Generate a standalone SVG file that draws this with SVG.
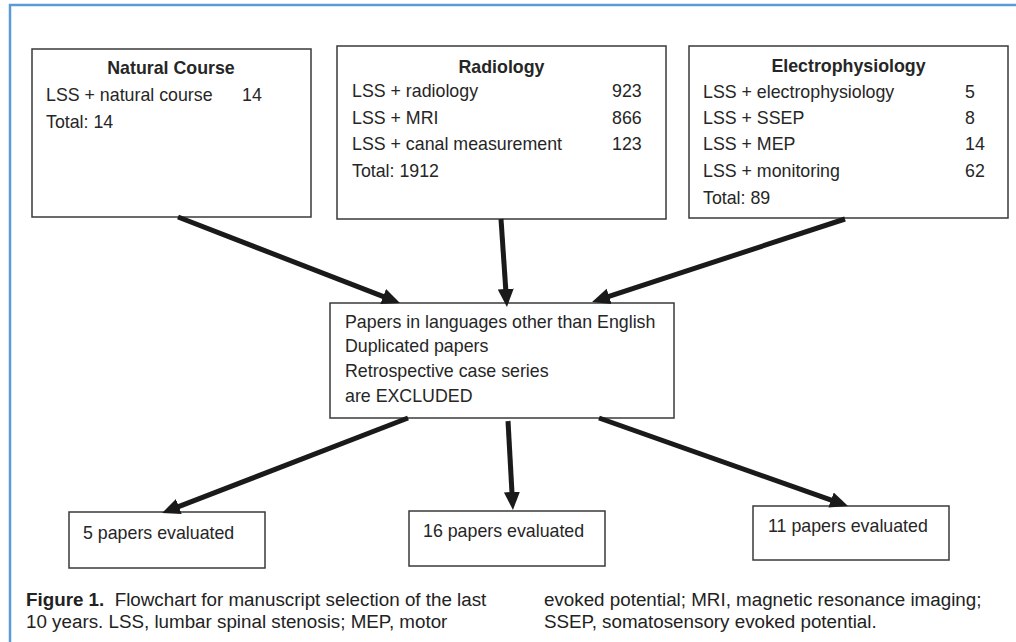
<svg xmlns="http://www.w3.org/2000/svg" width="1016" height="642" viewBox="0 0 1016 642">
<style>
.frame{stroke:#5b9bd5;stroke-width:2.5;fill:none}
.box{fill:#fff;stroke:#3a3a3a;stroke-width:1.5}
.t{font-family:"Liberation Sans",Arial,sans-serif;font-size:17.8px;fill:#262626}
.b{font-weight:bold}
.mid{text-anchor:middle}
.arrow{stroke:#1a1a1a;stroke-width:5;fill:none;marker-end:url(#ah)}
.cap{font-family:"Liberation Sans",Arial,sans-serif;font-size:18.8px;fill:#222}
</style>
<defs>
<marker id="ah" markerUnits="userSpaceOnUse" markerWidth="20" markerHeight="18" viewBox="0 -9 20 18" refX="1" refY="0" orient="auto">
<path d="M0,-8 L18,0 L0,8 z" fill="#1a1a1a"/>
</marker>
</defs>
<rect width="1016" height="642" fill="#fff"/>
<g id="frame">
<line class="frame" x1="9" y1="5" x2="1016" y2="5"/>
<line class="frame" x1="10" y1="4" x2="10" y2="642"/>
</g>
<g id="natural-course">
<rect class="box" x="32" y="49" width="279" height="168"/>
<text class="t b mid" x="171" y="74">Natural Course</text>
<text class="t" x="46" y="101">LSS + natural course</text>
<text class="t" x="242" y="101">14</text>
<text class="t" x="46" y="128">Total: 14</text>
</g>
<g id="radiology">
<rect class="box" x="337" y="46" width="329" height="173"/>
<text class="t b mid" x="501.5" y="73">Radiology</text>
<text class="t" x="352" y="97">LSS + radiology</text>
<text class="t" x="612" y="97">923</text>
<text class="t" x="352" y="124">LSS + MRI</text>
<text class="t" x="612" y="124">866</text>
<text class="t" x="352" y="150">LSS + canal measurement</text>
<text class="t" x="612" y="150">123</text>
<text class="t" x="352" y="177">Total: 1912</text>
</g>
<g id="electrophysiology">
<rect class="box" x="689" y="46" width="319" height="172"/>
<text class="t b mid" x="848.5" y="72">Electrophysiology</text>
<text class="t" x="703" y="98">LSS + electrophysiology</text>
<text class="t" x="965" y="98">5</text>
<text class="t" x="703" y="124">LSS + SSEP</text>
<text class="t" x="965" y="124">8</text>
<text class="t" x="703" y="150">LSS + MEP</text>
<text class="t" x="965" y="150">14</text>
<text class="t" x="703" y="177">LSS + monitoring</text>
<text class="t" x="965" y="177">62</text>
<text class="t" x="703" y="204">Total: 89</text>
</g>
<g id="exclusion">
<rect class="box" x="330" y="303" width="344" height="115"/>
<text class="t" x="345" y="328">Papers in languages other than English</text>
<text class="t" x="345" y="352">Duplicated papers</text>
<text class="t" x="345" y="377">Retrospective case series</text>
<text class="t" x="345" y="402">are EXCLUDED</text>
</g>
<g id="result-5">
<rect class="box" x="69" y="512" width="196" height="56"/>
<text class="t" x="83" y="539">5 papers evaluated</text>
</g>
<g id="result-16">
<rect class="box" x="409" y="511" width="196" height="55"/>
<text class="t" x="423" y="537">16 papers evaluated</text>
</g>
<g id="result-11">
<rect class="box" x="753" y="506" width="196" height="54"/>
<text class="t" x="768" y="532">11 papers evaluated</text>
</g>
<g id="connectors">
<line class="arrow" x1="178" y1="217" x2="384.1" y2="296.9"/>
<line class="arrow" x1="501" y1="219" x2="505.8" y2="290"/>
<line class="arrow" x1="845" y1="219" x2="608.2" y2="296.7"/>
<line class="arrow" x1="408" y1="418" x2="177.9" y2="506.9"/>
<line class="arrow" x1="508" y1="421" x2="512" y2="493"/>
<line class="arrow" x1="599" y1="418" x2="832" y2="500.3"/>
</g>
<g id="caption">
<text class="cap" x="26" y="606"><tspan font-weight="bold">Figure 1.</tspan>&#160; Flowchart for manuscript selection of the last</text>
<text class="cap" x="26" y="628">10 years. LSS, lumbar spinal stenosis; MEP, motor</text>
<text class="cap" x="544" y="606">evoked potential; MRI, magnetic resonance imaging;</text>
<text class="cap" x="544" y="628">SSEP, somatosensory evoked potential.</text>
</g>
</svg>
